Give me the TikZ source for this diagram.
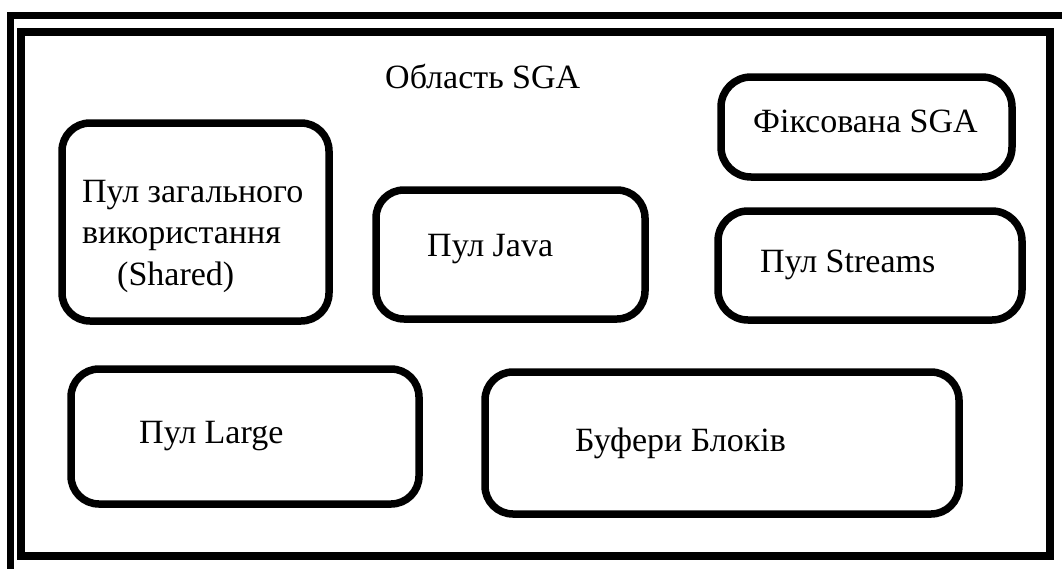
\documentclass[tikz,border=0pt]{standalone}
\usepackage{fontspec}
\setmainfont{Liberation Serif}
\begin{document}
\begin{tikzpicture}[x=1pt,y=-1pt,
  pool/.style={draw=black,line width=7.5pt,rounded corners=28pt,fill=none,inner sep=0pt},
  lbl/.style={anchor=base west,inner sep=0pt,font=\fontsize{34}{41.5}\selectfont}]
  \useasboundingbox (0,0) rectangle (1062,568);
  % double frame of the SGA region
  \draw[line width=7pt] (10.5,15.5) rectangle (1085,590);
  \draw[line width=8pt] (21,31.5) rectangle (1050,556);

  % pools
  \node[pool,minimum width=267pt,minimum height=198pt] (shared) at (195.5,222) {};
  \node[pool,minimum width=269pt,minimum height=129pt] (java) at (510.5,254.5) {};
  \node[pool,minimum width=291pt,minimum height=100pt,rounded corners=30pt] (fixed) at (866.5,127) {};
  \node[pool,minimum width=304pt,minimum height=109pt,rounded corners=30pt] (streams) at (870,265.5) {};
  \node[pool,minimum width=348pt,minimum height=135pt] (large) at (245,436.5) {};
  \node[pool,minimum width=474pt,minimum height=142pt] (buffers) at (722,443) {};

  % labels (the base of a multi-line label is that of its last line)
  \node[lbl] (title) at (385,88) {Область SGA};
  \node[lbl,align=left] (sharedtxt) at (82,285) {Пул загального\\використання\\\hspace*{35pt}(Shared)};
  \node[lbl] (javatxt) at (427,256) {Пул Java};
  \node[lbl] (fixedtxt) at (753,132) {Фіксована SGA};
  \node[lbl] (streamstxt) at (760,272) {Пул Streams};
  \node[lbl] (largetxt) at (139,443) {Пул Large};
  \node[lbl] (bufferstxt) at (575,451) {Буфери Блоків};
\end{tikzpicture}
\end{document}
